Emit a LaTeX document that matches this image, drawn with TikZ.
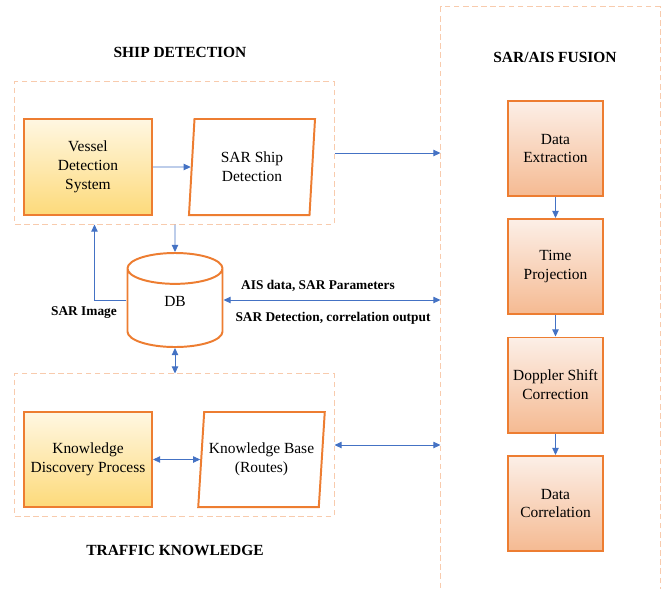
\documentclass[tikz,border=0pt]{standalone}
\usepackage{fontspec}
\setmainfont{Liberation Serif}
\usetikzlibrary{arrows.meta, positioning, shapes.geometric}
\definecolor{boxline}{HTML}{ED7D31}
\definecolor{dashline}{HTML}{F8CBAD}
\definecolor{arrowblue}{HTML}{4472C4}
\definecolor{goldtop}{HTML}{FFF7E2}
\definecolor{goldbot}{HTML}{FDDA7A}
\definecolor{peachtop}{HTML}{FCEFE7}
\definecolor{peachbot}{HTML}{F5BA92}

\begin{document}
\begin{tikzpicture}[x=0.025cm, y=-0.025cm,
  every node/.style={font=\fontsize{11}{13.5}\selectfont, align=center},
  grp/.style={draw=dashline, dashed, dash pattern=on 4pt off 2.5pt, line width=0.7pt},
  goldbox/.style={draw=boxline, line width=1.4pt, top color=goldtop, bottom color=goldbot,
    minimum width=3.2cm, minimum height=2.4cm},
  peachbox/.style={draw=boxline, line width=1.4pt, top color=peachtop, bottom color=peachbot,
    minimum width=2.375cm, minimum height=2.375cm},
  slanted/.style={draw=boxline, line width=1.4pt, fill=white, trapezium,
    trapezium left angle=82, trapezium right angle=98, trapezium stretches body,
    minimum width=3.15cm, minimum height=2.4cm},
  arr/.style={draw=arrowblue, line width=0.6pt, -{Triangle[length=5pt, width=4.5pt]}},
  biarr/.style={arr, {Triangle[length=5pt, width=4.5pt]}-{Triangle[length=5pt, width=4.5pt]}},
  heading/.style={font=\fontsize{11}{13}\selectfont\bfseries},
  lbl/.style={font=\fontsize{9.5}{11}\selectfont\bfseries}]
  \useasboundingbox (0,0) rectangle (665,588);
  % Groups
  \node[grp, minimum width=7.975cm, minimum height=3.55cm] (ship) at (174.5,153) {};
  \node[grp, minimum width=7.975cm, minimum height=3.55cm] (traffic) at (174.5,445) {};
  \node[grp, minimum width=5.475cm, minimum height=15.325cm] (fusion) at (550.5,313.5) {};
  \node[heading] at (180,52) {SHIP DETECTION};
  \node[heading] at (175,550) {TRAFFIC KNOWLEDGE};
  \node[heading] at (555,57) {SAR/AIS FUSION};
  % Ship detection
  \node[goldbox] (vessel) at (88,167) {Vessel\\Detection\\System};
  \node[slanted] (sarship) at (252,167) {SAR Ship\\Detection};
  % Database
  \node[draw=boxline, line width=1.4pt, fill=white, cylinder, shape border rotate=90,
    aspect=1, minimum width=2.375cm, minimum height=2.35cm, anchor=shape center]
    (db) at (175,300) {\raisebox{3.6pt}[0pt][0pt]{DB}};
  % Traffic knowledge
  \node[goldbox, minimum height=2.375cm] (kdp) at (88,459.5) {Knowledge\\Discovery Process};
  \node[slanted, minimum height=2.375cm] (kb) at (261.5,459.5) {Knowledge Base\\(Routes)};
  % SAR/AIS fusion
  \node[peachbox] (extract) at (555.5,148.5) {Data\\Extraction};
  \node[peachbox] (timeproj) at (555.5,266.5) {Time\\Projection};
  \node[peachbox] (doppler) at (555.5,385) {Doppler Shift\\Correction};
  \node[peachbox] (correl) at (555.5,503.5) {Data\\Correlation};
  % Arrows
  \draw[arr] (vessel) -- (sarship);
  \draw[arr] (ship.east) -- (ship.east -| fusion.west);
  \draw[arr] (ship.south -| db) -- (db);
  \draw[arr] (db.shape center -| db.west) -| ([xshift=2cm]ship.south west);
  \draw[biarr] (db.shape center -| db.east) -- (db.shape center -| fusion.west);
  \draw[biarr] (db) -- (db |- traffic.north);
  \draw[biarr] (kdp) -- (kb);
  \draw[biarr] (traffic.east) -- (traffic.east -| fusion.west);
  \draw[arr] (extract) -- (timeproj);
  \draw[arr] (timeproj) -- (doppler);
  \draw[arr] (doppler) -- (correl);
  % Labels
  \node[lbl] at (84,313) {SAR Image};
  \node[lbl] at (318,286) {AIS data, SAR Parameters};
  \node[lbl] at (333,318) {SAR Detection, correlation output};
\end{tikzpicture}
\end{document}
